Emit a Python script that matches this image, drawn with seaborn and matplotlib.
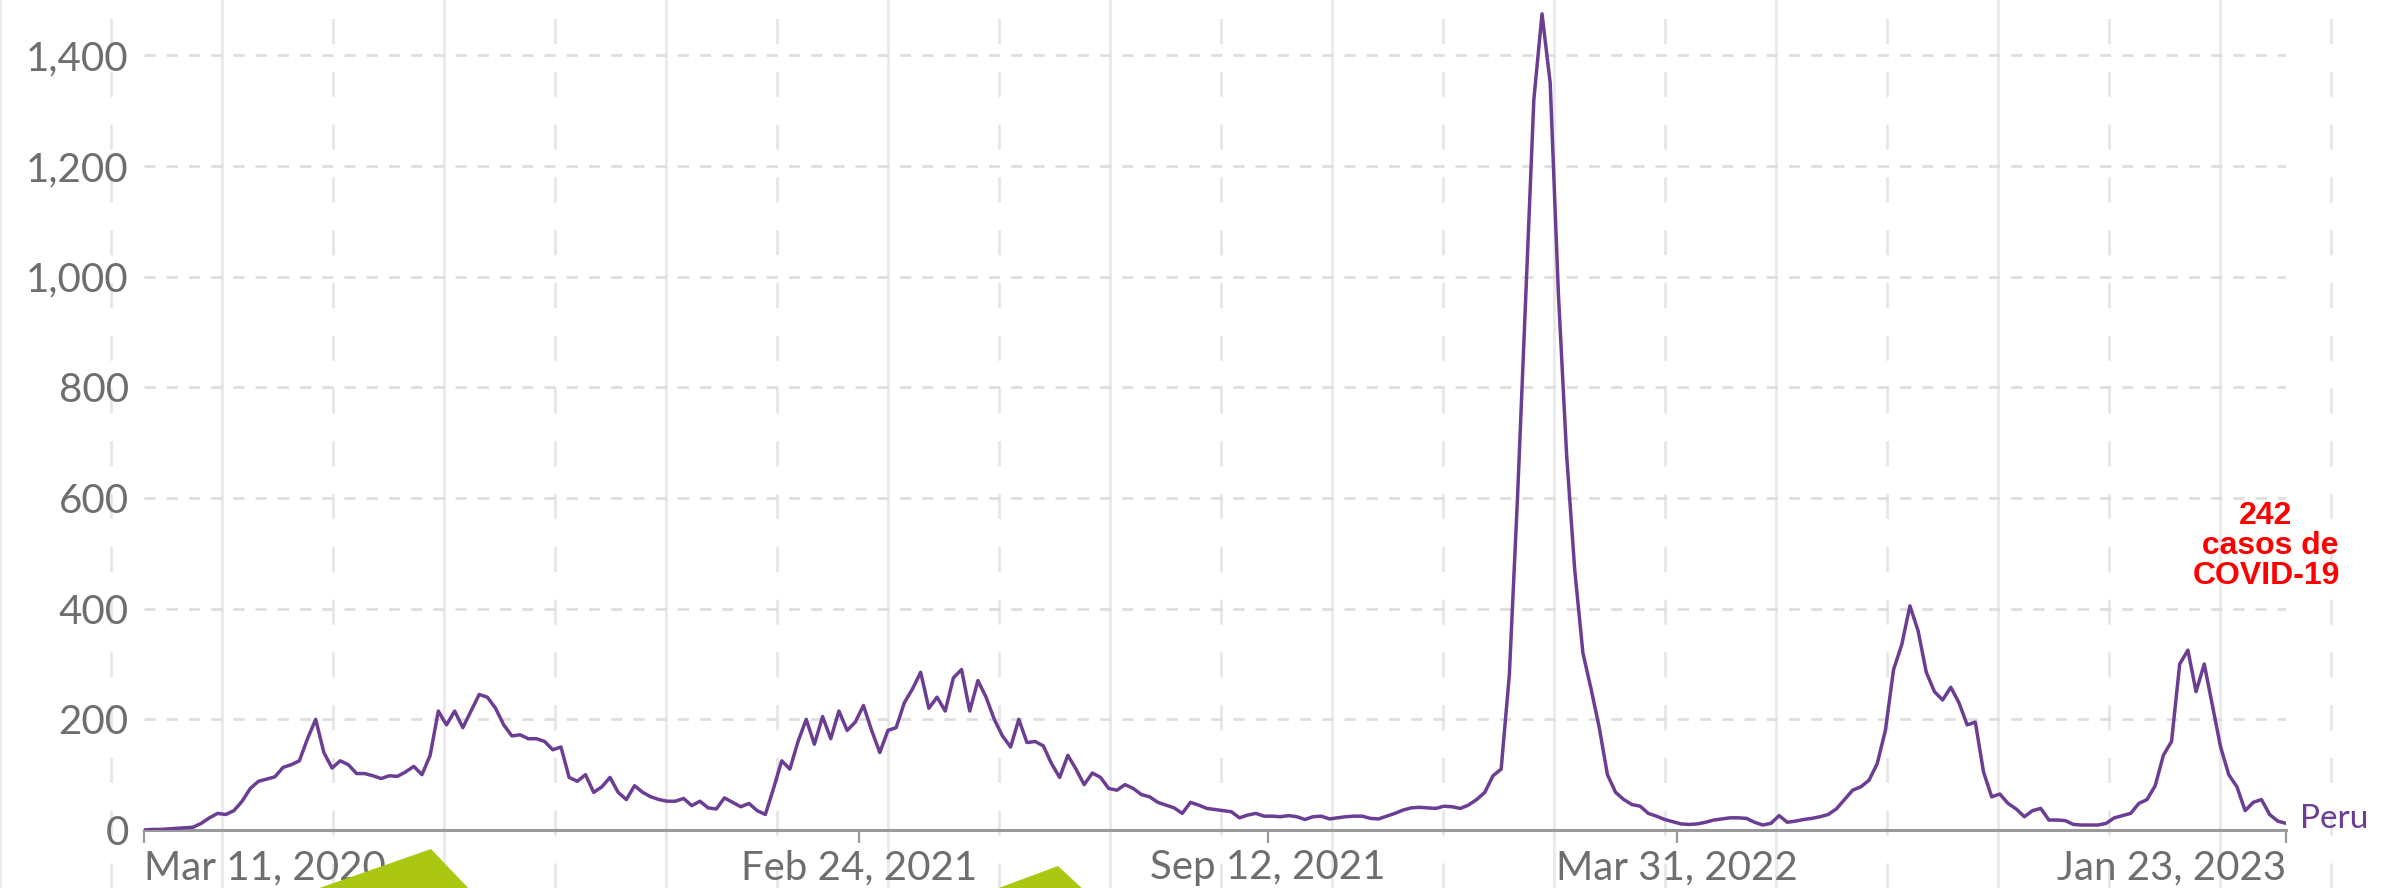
import matplotlib
matplotlib.use("Agg")
import matplotlib.pyplot as plt
import seaborn as sns
import pandas as pd
from matplotlib.lines import Line2D
from matplotlib.patches import Polygon

# Daily new COVID-19 cases, Peru -- values read every 4 days from the reference
START_DATE = "2020-03-11"
STEP = "4D"
CASES = [
    0, 1, 1, 2, 3, 4, 5, 12, 22, 30,
    28, 35, 52, 75, 88, 92, 96, 113, 118, 125,
    165, 200, 140, 112, 125, 118, 102, 102, 98, 93,
    98, 97, 105, 115, 100, 135, 215, 190, 215, 185,
    215, 245, 240, 220, 190, 170, 172, 165, 165, 160,
    145,
    150, 95, 88, 100, 68, 78, 95, 68, 55, 80,
    68, 60, 55, 52, 52, 57, 44, 52, 40, 38,
    58, 50, 42, 48, 35, 28, 75, 125, 110, 160,
    200, 155, 205, 165, 215, 180, 195, 225, 180, 140,
    180, 185, 230, 255, 285, 220, 240, 215, 275, 290,
    215, 270,
    240, 200, 170, 150, 200, 158, 160, 152, 120, 95,
    135, 110, 82, 103, 95, 75, 72, 82, 75, 64,
    60, 50, 45, 40, 30, 50, 45, 39, 37, 35,
    33, 22, 27, 30, 25, 25, 24, 26, 24, 19,
    24, 25, 20, 22, 24, 25, 25, 21, 20, 25,
    30, 36, 40, 41, 40, 39,
    43, 42, 39, 45, 55, 68, 98, 110, 280, 600,
    960, 1320, 1475, 1350, 970, 680, 470, 320, 255, 185,
    100, 68, 55, 46, 43, 30, 25,
    19, 15, 11, 10, 11, 14, 18, 20, 22, 22,
    21, 14, 9, 12, 26, 14, 16, 19, 21, 24,
    28, 38, 55, 72, 78, 90, 120, 180, 290, 335,
    405, 360, 285, 250, 235, 258, 230, 190, 195, 105,
    60, 65, 48, 38, 24, 35, 39, 18, 18, 17,
    10,
    9, 9, 9, 12, 22, 26, 30, 48, 55, 80,
    135, 160, 300, 325, 250, 300, 225, 150, 100, 78,
    35, 50, 55, 28, 16, 12,
]
COUNTRY = "Peru"

X_TICK_DATES = ["2020-03-11", "2021-02-24", "2021-09-12", "2022-03-31", "2023-01-23"]
X_TICK_LABELS = ["Mar 11, 2020", "Feb 24, 2021", "Sep 12, 2021", "Mar 31, 2022", "Jan 23, 2023"]
Y_TICKS = [0, 200, 400, 600, 800, 1000, 1200, 1400]
NOTE = "242\n casos de\nCOVID-19"

LINE_COLOR = "#6b3d93"
TEXT_GRAY = "#6e6e6e"

df = pd.DataFrame({
    "date": pd.date_range(START_DATE, periods=len(CASES), freq=STEP),
    "cases": CASES,
})

sns.set_theme(style="white")
plt.rcParams["font.family"] = ["Lato", "DejaVu Sans"]

W, H = 2397, 888
fig = plt.figure(figsize=(W / 100, H / 100), dpi=100)
fig.patch.set_facecolor("white")

# squared-paper background lines (solid / dashed alternating)
for k in range(11):
    x = 222 * k / W
    fig.add_artist(Line2D([x, x], [0, 1], transform=fig.transFigure,
                          color="#e9e9e9", lw=2, zorder=-5))
    xd = (111 + 222 * k) / W
    fig.add_artist(Line2D([xd, xd], [0, 1], transform=fig.transFigure,
                          color="#e6e6e6", lw=2, dashes=(9, 10), zorder=-5))

ax = fig.add_axes([144 / W, 1 - 830 / H, (2286 - 144) / W, 830 / H])
ax.patch.set_alpha(0)

sns.lineplot(data=df, x="date", y="cases", ax=ax, color=LINE_COLOR,
             linewidth=2.5, zorder=3)

ax.set_xlim(pd.Timestamp(X_TICK_DATES[0]), pd.Timestamp(X_TICK_DATES[-1]))
ax.set_ylim(0, 1500)

ax.set_yticks(Y_TICKS)
ax.set_yticklabels([f"{v:,}" for v in Y_TICKS])
ax.set_xticks(pd.to_datetime(X_TICK_DATES))
ax.set_xticklabels(X_TICK_LABELS)
xlabels = ax.get_xticklabels()
xlabels[0].set_ha("left")
xlabels[-1].set_ha("right")

ax.yaxis.grid(True, color="#dedede", lw=2, dashes=(4, 4))
ax.xaxis.grid(False)
ax.set_axisbelow(True)

for side in ["top", "right", "left"]:
    ax.spines[side].set_visible(False)
ax.spines["bottom"].set_color("#9a9a9a")
ax.spines["bottom"].set_linewidth(2.2)

ax.tick_params(axis="y", length=0, pad=11, labelsize=29, labelcolor=TEXT_GRAY)
ax.tick_params(axis="x", length=9, width=1.6, color="#9a9a9a", pad=5,
               labelsize=29, labelcolor=TEXT_GRAY, bottom=True)
ax.set_xlabel("")
ax.set_ylabel("")

# series label at the end of the line
ax.annotate(COUNTRY, xy=(df["date"].iloc[-1], df["cases"].iloc[-1]),
            xytext=(10, 3), textcoords="offset points", va="center", ha="left",
            color=LINE_COLOR, fontsize=24, annotation_clip=False)

fig.text(2266 / W, 1 - 546 / H, NOTE, ha="center", va="center",
         multialignment="center", color="#ff0000", fontsize=23,
         fontweight="bold", family=["Liberation Sans", "DejaVu Sans"],
         linespacing=1.0)

# green decorative shapes at the bottom edge
for pts in ([(308, 892), (431, 849), (472, 892)],
            [(988, 892), (1058, 866), (1086, 892)]):
    fig.add_artist(Polygon([(x / W, 1 - y / H) for x, y in pts], closed=True,
                           transform=fig.transFigure, facecolor="#abc711",
                           edgecolor="none", zorder=10))

fig.savefig("out.png", dpi=100)
